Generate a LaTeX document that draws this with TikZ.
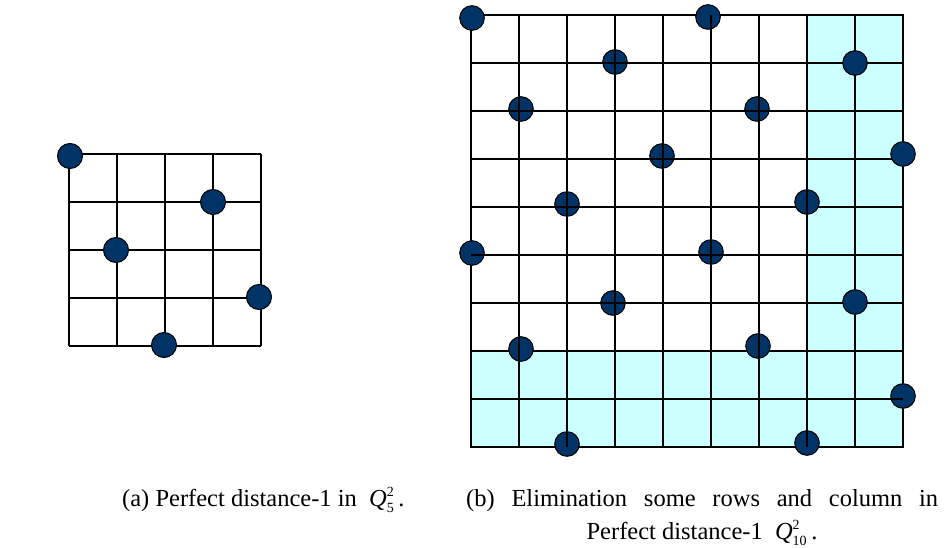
\documentclass[tikz,border=0pt]{standalone}
\usepackage{fontspec}
\setmainfont{Liberation Serif}
\definecolor{navy}{RGB}{0,51,102}
\definecolor{paleCyan}{RGB}{204,255,255}
\tikzset{
  gridline/.style={line width=1.9pt, black},
  dot/.style={fill=navy, draw=black, line width=1pt},
  band/.style={fill=paleCyan, draw=black, line width=2.6pt},
  captext/.style={font=\fontsize{24.5}{29}\selectfont, inner sep=0pt}
}
\newcommand{\Qsym}[2]{\textit{Q}$^{\hbox{\fontsize{14}{14}\selectfont #1}}_{\hbox{\fontsize{14}{14}\selectfont #2}}$}
\begin{document}
\begin{tikzpicture}[x=1pt,y=-1pt]
\useasboundingbox (0,0) rectangle (948,548);
% ---------- (a) Q_5^2 ----------
\foreach \i in {0,...,4}{
  \draw[gridline] (69+48*\i,154) -- (69+48*\i,346);
  \draw[gridline] (69,154+48*\i) -- (261,154+48*\i);
}
\foreach \p in {(70,156),(213,202),(116,250),(259,297),(164,345)}{
  \fill[dot] \p circle (12.5);
}
% ---------- (b) Q_10^2 ----------
\fill[band] (807,15) rectangle (903,351);
\fill[band] (471,351) rectangle (903,447);
\draw[line width=2.6pt] (471,351) -- (903,351);
\draw[line width=2.6pt] (807,15) -- (807,351);
\draw[line width=2.6pt] (807,15) -- (903,15);
\foreach \i in {0,...,9}{
  \draw[gridline] (471+48*\i,15) -- (471+48*\i,447);
  \draw[gridline] (471,15+48*\i) -- (903,15+48*\i);
}
\foreach \p in {(472,18),(708,17),(615,62),(855,63),(521,109),(757,109),(662,156),(903,154),(567,204),(807,202),(472,253),(711,252),(613,303),(855,302),(521,349),(758,346),(903,396),(567,444),(807,443)}{
  \fill[dot] \p circle (12.3);
}
% lines lying over the dots
\foreach \i in {1,...,7}{
  \draw[gridline] (471+48*\i,15) -- (471+48*\i,447);
}
\foreach \i in {1,...,6}{
  \draw[gridline] (471,15+48*\i) -- (795,15+48*\i);
}
\draw[gridline] (471,399) -- (903,399);
% ---------- captions ----------
\node[captext, anchor=base west] (capa) at (122,506) {(a) Perfect distance-1 in \ \Qsym{2}{5}\,.};
\node[captext, anchor=base west] (capb) at (466,506) {\makebox[472pt][s]{(b) Elimination some rows and column in}};
\node[captext, anchor=base] (capc) at (702,539) {Perfect distance-1 \ \Qsym{2}{10}\,.};
\end{tikzpicture}
\end{document}
